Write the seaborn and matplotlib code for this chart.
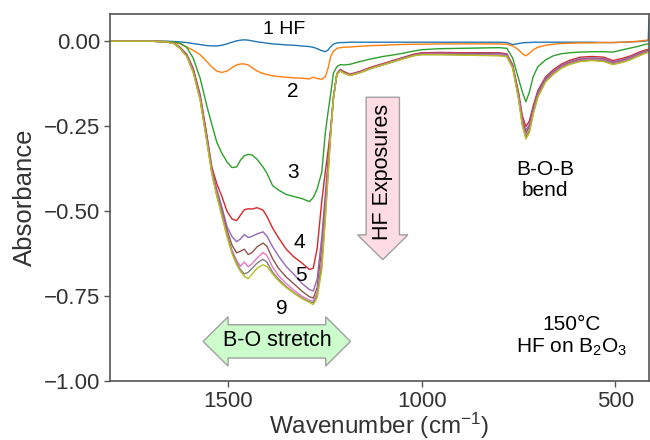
import numpy as np
import pandas as pd
import matplotlib
matplotlib.use("Agg")
import matplotlib.pyplot as plt
from matplotlib.patches import Polygon
import seaborn as sns

# ---------------- data ----------------
wavenumber = [1805, 1700, 1660, 1640, 1624, 1607, 1590, 1572, 1555, 1542,
              1529, 1516, 1503, 1490, 1478, 1468, 1458, 1448, 1438, 1425,
              1410, 1400, 1385, 1370, 1350, 1330, 1310, 1290, 1280, 1270,
              1258, 1249, 1242, 1235, 1228, 1219, 1210, 1200, 1185, 1160,
              1130, 1100, 1060, 1020, 1000, 950, 900, 850, 800, 780,
              765, 750, 740, 731, 722, 712, 700, 680, 660, 640,
              617, 590, 560, 530, 506, 480, 460, 440, 425, 415, 413]

hf1 = [0.000, 0.000, 0.000, -0.001, -0.002, -0.004, -0.007, -0.010, -0.013, -0.014,
       -0.014, -0.012, -0.008, -0.003, 0.001, 0.003, 0.004, 0.003, 0.001, -0.002,
       -0.004, -0.006, -0.008, -0.009, -0.011, -0.012, -0.014, -0.016, -0.018, -0.022,
       -0.028, -0.031, -0.026, -0.016, -0.009, -0.005, -0.004, -0.004, -0.003, -0.003,
       -0.003, -0.003, -0.003, -0.003, -0.003, -0.003, -0.003, -0.003, -0.003, -0.004,
       -0.010, -0.007, -0.005, -0.004, -0.004, -0.003, -0.003, -0.003, -0.003, -0.003,
       -0.003, -0.003, -0.003, -0.004, -0.004, -0.003, -0.002, -0.001, 0.000, 0.002, 0.065]

hf2 = [0.000, 0.000, -0.001, -0.003, -0.008, -0.017, -0.027, -0.040, -0.060, -0.076,
       -0.088, -0.092, -0.088, -0.078, -0.070, -0.067, -0.067, -0.070, -0.078, -0.088,
       -0.095, -0.098, -0.102, -0.104, -0.106, -0.108, -0.109, -0.111, -0.106, -0.110,
       -0.112, -0.105, -0.080, -0.045, -0.030, -0.021, -0.019, -0.018, -0.017, -0.015,
       -0.013, -0.012, -0.010, -0.009, -0.009, -0.008, -0.008, -0.008, -0.008, -0.009,
       -0.014, -0.025, -0.037, -0.043, -0.036, -0.025, -0.018, -0.012, -0.009, -0.007,
       -0.006, -0.005, -0.005, -0.004, -0.004, -0.003, -0.002, 0.000, 0.002, 0.004, 0.004]

hf3 = [0.000, 0.000, -0.001, -0.002, -0.006, -0.018, -0.050, -0.110, -0.190, -0.245,
       -0.298, -0.330, -0.355, -0.372, -0.370, -0.350, -0.337, -0.333, -0.335, -0.348,
       -0.370, -0.388, -0.425, -0.438, -0.451, -0.457, -0.463, -0.472, -0.460, -0.435,
       -0.385, -0.270, -0.210, -0.155, -0.094, -0.075, -0.069, -0.070, -0.068, -0.060,
       -0.052, -0.045, -0.038, -0.029, -0.025, -0.022, -0.021, -0.020, -0.019, -0.021,
       -0.050, -0.110, -0.150, -0.178, -0.150, -0.104, -0.075, -0.055, -0.043, -0.037,
       -0.034, -0.032, -0.031, -0.031, -0.032, -0.025, -0.020, -0.015, -0.010, -0.008, -0.008]

hf4 = [0.000, 0.000, -0.002, -0.006, -0.018, -0.038, -0.080, -0.158, -0.275, -0.370,
       -0.420, -0.457, -0.500, -0.523, -0.528, -0.512, -0.496, -0.493, -0.494, -0.490,
       -0.497, -0.515, -0.550, -0.578, -0.612, -0.635, -0.652, -0.672, -0.668, -0.610,
       -0.470, -0.385, -0.325, -0.255, -0.165, -0.095, -0.083, -0.090, -0.097, -0.089,
       -0.076, -0.066, -0.052, -0.038, -0.034, -0.033, -0.034, -0.034, -0.034, -0.037,
       -0.070, -0.150, -0.220, -0.251, -0.235, -0.190, -0.145, -0.105, -0.084, -0.068,
       -0.056, -0.047, -0.045, -0.047, -0.057, -0.050, -0.043, -0.033, -0.027, -0.024, -0.024]

hf5 = [0.000, 0.000, -0.002, -0.006, -0.019, -0.040, -0.083, -0.163, -0.280, -0.376,
       -0.437, -0.488, -0.545, -0.575, -0.590, -0.582, -0.569, -0.578, -0.574, -0.567,
       -0.561, -0.573, -0.605, -0.632, -0.663, -0.686, -0.712, -0.731, -0.735, -0.700,
       -0.575, -0.450, -0.355, -0.262, -0.166, -0.096, -0.085, -0.092, -0.099, -0.091,
       -0.078, -0.068, -0.054, -0.040, -0.036, -0.035, -0.036, -0.036, -0.036, -0.039,
       -0.072, -0.155, -0.228, -0.262, -0.245, -0.198, -0.150, -0.109, -0.088, -0.072,
       -0.060, -0.051, -0.049, -0.051, -0.061, -0.054, -0.046, -0.036, -0.030, -0.027, -0.027]

hf6 = [0.000, 0.000, -0.002, -0.006, -0.020, -0.041, -0.086, -0.167, -0.285, -0.382,
       -0.445, -0.500, -0.555, -0.600, -0.623, -0.618, -0.612, -0.628, -0.622, -0.605,
       -0.594, -0.603, -0.640, -0.668, -0.694, -0.714, -0.735, -0.752, -0.756, -0.725,
       -0.610, -0.480, -0.372, -0.265, -0.167, -0.096, -0.086, -0.093, -0.100, -0.092,
       -0.079, -0.069, -0.055, -0.041, -0.037, -0.037, -0.038, -0.038, -0.039, -0.042,
       -0.075, -0.160, -0.235, -0.270, -0.252, -0.205, -0.156, -0.113, -0.092, -0.075,
       -0.063, -0.054, -0.052, -0.054, -0.064, -0.057, -0.049, -0.039, -0.032, -0.029, -0.029]

hf7 = [0.000, 0.000, -0.002, -0.007, -0.021, -0.043, -0.089, -0.171, -0.290, -0.386,
       -0.450, -0.508, -0.565, -0.615, -0.645, -0.662, -0.650, -0.664, -0.655, -0.638,
       -0.622, -0.630, -0.665, -0.690, -0.713, -0.733, -0.750, -0.762, -0.765, -0.740,
       -0.640, -0.500, -0.385, -0.268, -0.168, -0.097, -0.087, -0.094, -0.100, -0.092,
       -0.079, -0.069, -0.055, -0.042, -0.038, -0.038, -0.039, -0.040, -0.040, -0.043,
       -0.077, -0.164, -0.241, -0.278, -0.260, -0.210, -0.160, -0.116, -0.094, -0.077,
       -0.065, -0.056, -0.054, -0.056, -0.066, -0.059, -0.051, -0.041, -0.034, -0.031, -0.031]

hf8 = [0.000, 0.000, -0.002, -0.007, -0.021, -0.044, -0.091, -0.173, -0.293, -0.388,
       -0.455, -0.512, -0.570, -0.620, -0.652, -0.672, -0.685, -0.680, -0.668, -0.653,
       -0.642, -0.650, -0.680, -0.700, -0.722, -0.740, -0.755, -0.767, -0.770, -0.748,
       -0.660, -0.515, -0.395, -0.270, -0.168, -0.097, -0.087, -0.094, -0.101, -0.093,
       -0.080, -0.070, -0.056, -0.042, -0.039, -0.039, -0.040, -0.041, -0.042, -0.045,
       -0.078, -0.167, -0.246, -0.283, -0.265, -0.213, -0.163, -0.118, -0.096, -0.079,
       -0.067, -0.058, -0.056, -0.058, -0.068, -0.061, -0.053, -0.043, -0.036, -0.032, -0.032]

hf9 = [0.000, 0.000, -0.002, -0.007, -0.022, -0.045, -0.092, -0.175, -0.295, -0.390,
       -0.457, -0.516, -0.575, -0.625, -0.658, -0.678, -0.692, -0.699, -0.685, -0.668,
       -0.658, -0.663, -0.685, -0.705, -0.725, -0.742, -0.757, -0.769, -0.775, -0.755,
       -0.673, -0.526, -0.400, -0.272, -0.168, -0.097, -0.088, -0.095, -0.101, -0.093,
       -0.080, -0.070, -0.056, -0.043, -0.040, -0.040, -0.041, -0.042, -0.043, -0.046,
       -0.080, -0.170, -0.250, -0.288, -0.270, -0.215, -0.165, -0.120, -0.098, -0.080,
       -0.068, -0.060, -0.057, -0.060, -0.069, -0.062, -0.054, -0.044, -0.037, -0.033, -0.033]

exposures = ["1", "2", "3", "4", "5", "6", "7", "8", "9"]
series = [hf1, hf2, hf3, hf4, hf5, hf6, hf7, hf8, hf9]

y_ticks = [0.0, -0.25, -0.5, -0.75, -1.0]
x_ticks = [1500, 1000, 500]

# ---------------- build long table ----------------
frames = []
for name, vals in zip(exposures, series):
    frames.append(pd.DataFrame({"Wavenumber": wavenumber, "Absorbance": vals, "Exposure": name}))
df = pd.concat(frames, ignore_index=True)

# ---------------- style ----------------
sns.set_theme(style="ticks")
plt.rcParams["font.family"] = ["Liberation Sans", "DejaVu Sans"]
plt.rcParams["mathtext.fontset"] = "custom"
plt.rcParams["mathtext.rm"] = "Liberation Sans"
plt.rcParams["mathtext.it"] = "Liberation Sans:italic"
plt.rcParams["axes.unicode_minus"] = True

spine_col = "#555555"
text_col = "#333333"

fig = plt.figure(figsize=(6.5, 4.4), dpi=100)
ax = fig.add_axes([110 / 650, 59 / 440, 539 / 650, 367 / 440])

palette = sns.color_palette("tab10", 9)
sns.lineplot(data=df, x="Wavenumber", y="Absorbance", hue="Exposure",
             hue_order=exposures, palette=palette, estimator=None,
             linewidth=1.0, legend=False, ax=ax)

ax.set_xlim(1805, 413)
ax.set_ylim(-1.0, 0.08)
ax.set_xticks(x_ticks)
ax.set_yticks(y_ticks)
ax.set_yticklabels([f"{v:.2f}".replace("-", "\u2212") for v in y_ticks])
ax.set_xticklabels([str(v) for v in x_ticks])

for s in ax.spines.values():
    s.set_visible(True)
    s.set_color(spine_col)
    s.set_linewidth(1.2)
ax.tick_params(axis="both", colors=spine_col, labelcolor=text_col,
               labelsize=16, length=4, width=1.0, pad=3)

ax.set_xlabel("Wavenumber (cm$^{\\mathregular{-1}}$)", fontsize=17.5, color=text_col, labelpad=-0.5)
ax.set_ylabel("Absorbance", fontsize=18.5, color=text_col, labelpad=5)

# ---------------- annotations ----------------
fs = 15
ax.text(1355, 0.033, "1 HF", fontsize=14, ha="center", va="center", color="black")
ax.text(1333, -0.149, "2", fontsize=fs, ha="center", va="center", color="black")
ax.text(1332, -0.387, "3", fontsize=fs, ha="center", va="center", color="black")
ax.text(1317, -0.591, "4", fontsize=fs, ha="center", va="center", color="black")
ax.text(1311, -0.690, "5", fontsize=fs, ha="center", va="center", color="black")
ax.text(1362, -0.787, "9", fontsize=fs, ha="center", va="center", color="black")
ax.text(681, -0.408, "B-O-B\nbend", fontsize=fs, ha="center", va="center",
        color="black", linespacing=1.1)
ax.text(612, -0.870, "150\u00b0C\nHF on B$_\\mathregular{2}$O$_\\mathregular{3}$",
        fontsize=fs, ha="center", va="center", color="black", linespacing=1.15)

# HF exposures down arrow
cx, top, body_bot, tip = 1100.5, -0.165, -0.570, -0.643
bw, hw = 43, 65
hf_arrow = Polygon([(cx - bw, top), (cx + bw, top), (cx + bw, body_bot), (cx + hw, body_bot),
                    (cx, tip), (cx - hw, body_bot), (cx - bw, body_bot)],
                   closed=True, facecolor="#fddde3", edgecolor="#a0a0a0", linewidth=1.0, zorder=3)
ax.add_patch(hf_arrow)
ax.text(cx, -0.386, "HF Exposures", rotation=90, fontsize=15.5, ha="center", va="center",
        color="black", zorder=4)

# B-O stretch double arrow
yc, bh, hh = -0.8835, 0.049, 0.0726
lt, lb, rb, rt = 1564.6, 1500, 1248, 1184
bo_arrow = Polygon([(lt, yc), (lb, yc + hh), (lb, yc + bh), (rb, yc + bh), (rb, yc + hh),
                    (rt, yc), (rb, yc - hh), (rb, yc - bh), (lb, yc - bh), (lb, yc - hh)],
                   closed=True, facecolor="#ccfccc", edgecolor="#a0a0a0", linewidth=1.0, zorder=3)
ax.add_patch(bo_arrow)
ax.text(1374, -0.880, "B-O stretch", fontsize=15.5, ha="center", va="center",
        color="black", zorder=4)

fig.savefig("out.png", dpi=100)
